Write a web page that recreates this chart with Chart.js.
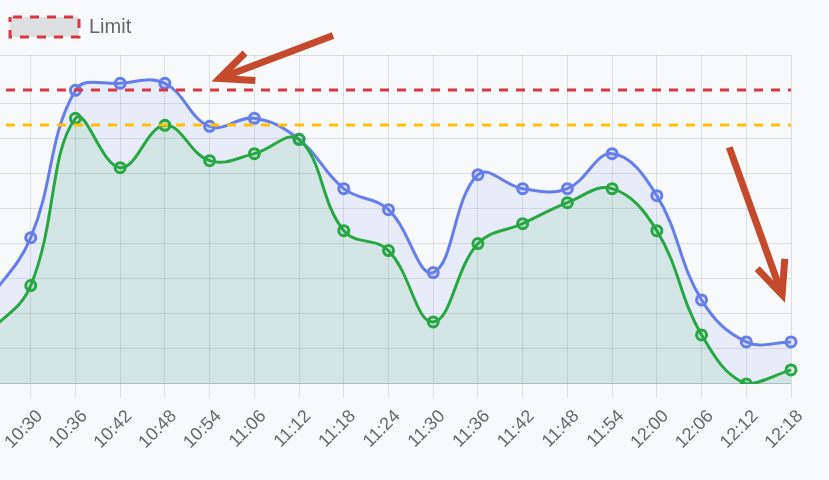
<!DOCTYPE html>
<html>
<head>
<meta charset="utf-8">
<script src="https://cdn.jsdelivr.net/npm/chart.js@4.4.0/dist/chart.umd.min.js"></script>
<style>
  html, body { margin: 0; padding: 0; background: #f8f9fa; overflow: hidden; }
  #wrap { position: absolute; left: -74px; top: 0; width: 903px; height: 480px; }
</style>
</head>
<body>
<div id="wrap"><canvas id="myChart"></canvas></div>
<script>
//data
const labels = ['10:24', '10:30', '10:36', '10:42', '10:48', '10:54', '11:06', '11:12', '11:18',
  '11:24', '11:30', '11:36', '11:42', '11:48', '11:54', '12:00', '12:06', '12:12', '12:18'];
const maxValues = [23, 41.8, 83.9, 85.9, 85.9, 73.6, 75.9, 69.9, 55.8,
  49.8, 31.8, 59.8, 55.8, 55.8, 65.8, 53.8, 24.0, 12.0, 12.0];
const avgValues = [14, 28.1, 75.9, 61.8, 73.9, 63.8, 65.8, 69.9, 43.8,
  38.1, 17.7, 40.1, 45.8, 51.8, 55.8, 43.8, 14.0, 0, 4.0];
const limitValue = 84;
const warningValue = 74;
const yTicks = [0, 10, 20, 30, 40, 50, 60, 70, 80, 94];

// arrows, in chart units: [label index, value]
const arrows = [
  { from: [7.76, 99.6], to: [5.22, 87.3] },
  { from: [16.62, 67.6], to: [17.8, 25.5] }
];

const pageShift = 74; // canvas is pushed left, legend is moved back

const legendFix = {
  id: 'legendFix',
  beforeInit(chart) {
    const fit = chart.legend.fit;
    chart.legend.fit = function () {
      fit.bind(chart.legend)();
      this.height += 8;
    };
  },
  beforeDraw(chart) {
    chart.legend.left = pageShift;
  }
};

const arrowPlugin = {
  id: 'arrows',
  afterDraw(chart) {
    const { ctx, scales: { x, y } } = chart;
    ctx.save();
    ctx.strokeStyle = '#c4492d';
    ctx.lineWidth = 7;
    ctx.lineJoin = 'miter';
    arrows.forEach((a) => {
      const x1 = x.getPixelForValue(a.from[0]), y1 = y.getPixelForValue(a.from[1]);
      const x2 = x.getPixelForValue(a.to[0]), y2 = y.getPixelForValue(a.to[1]);
      const ang = Math.atan2(y1 - y2, x1 - x2);
      const head = 36, spread = 0.42;
      ctx.beginPath();
      ctx.moveTo(x1, y1);
      ctx.lineTo(x2, y2);
      ctx.stroke();
      ctx.beginPath();
      ctx.moveTo(x2 + head * Math.cos(ang - spread), y2 + head * Math.sin(ang - spread));
      ctx.lineTo(x2, y2);
      ctx.lineTo(x2 + head * Math.cos(ang + spread), y2 + head * Math.sin(ang + spread));
      ctx.stroke();
    });
    ctx.restore();
  }
};

const datasets = [
  {
    label: 'Limit',
    data: labels.map(() => limitValue),
    borderColor: '#dc3545',
    backgroundColor: 'rgba(0, 0, 0, 0.1)',
    borderWidth: 3,
    borderDash: [9, 8],
    borderDashOffset: -3,
    pointRadius: 0,
    fill: false
  },
  {
    label: 'Warning',
    data: labels.map(() => warningValue),
    borderColor: '#ffc107',
    borderWidth: 3,
    borderDash: [9, 8],
    borderDashOffset: -3,
    pointRadius: 0,
    fill: false
  },
  {
    label: 'Average',
    data: avgValues,
    borderColor: '#28a745',
    backgroundColor: 'rgba(40, 167, 69, 0.1)',
    pointBackgroundColor: 'rgba(40, 167, 69, 0.1)',
    borderWidth: 3,
    pointRadius: 5,
    pointBorderWidth: 3,
    tension: 0.4,
    fill: 'origin'
  },
  {
    label: 'Max',
    data: maxValues,
    borderColor: '#667eea',
    backgroundColor: 'rgba(102, 126, 234, 0.1)',
    pointBackgroundColor: 'rgba(102, 126, 234, 0.1)',
    borderWidth: 3,
    pointRadius: 5,
    pointBorderWidth: 3,
    tension: 0.4,
    fill: 'origin'
  }
];

const config = {
  type: 'line',
  data: { labels, datasets },
  options: {
    responsive: true,
    maintainAspectRatio: false,
    animation: false,
    layout: { padding: { left: 60, right: 38, top: 7, bottom: 19 } },
    plugins: {
      tooltip: { enabled: false },
      legend: {
        position: 'top',
        align: 'start',
        labels: {
          boxWidth: 69,
          boxHeight: 20,
          color: '#666',
          font: { size: 20 },
          filter: (item) => item.text === 'Limit'
        }
      }
    },
    scales: {
      x: {
        grid: { color: 'rgba(0, 0, 0, 0.1)', tickLength: 14 },
        ticks: {
          color: '#666',
          font: { size: 18 },
          minRotation: 45,
          maxRotation: 45,
          autoSkip: false,
          padding: 8,
          labelOffset: 9
        }
      },
      y: {
        min: 0,
        max: 94,
        grid: { color: 'rgba(0, 0, 0, 0.1)', drawTicks: false },
        border: { display: false },
        ticks: { display: false },
        afterBuildTicks: (scale) => { scale.ticks = yTicks.map((v) => ({ value: v })); }
      }
    }
  },
  plugins: [legendFix, arrowPlugin]
};

const myChart = document.getElementById('myChart');
new Chart(myChart, config);
</script>
</body>
</html>
